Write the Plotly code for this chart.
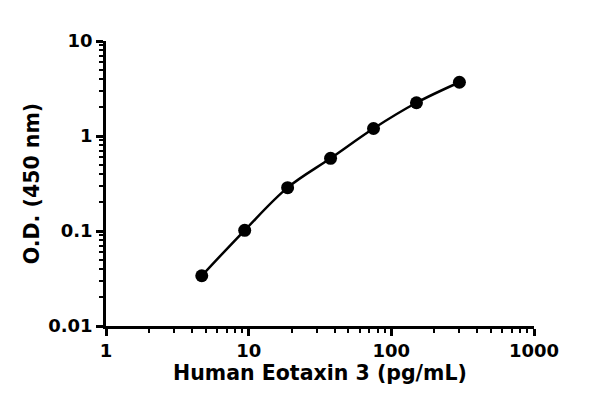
import plotly.graph_objects as go

concentration = [4.69, 9.38, 18.75, 37.5, 75, 150, 300]
od_450 = [0.0338, 0.1017, 0.286, 0.582, 1.2, 2.24, 3.68]

x_tickvals = [1, 10, 100, 1000]
x_ticktext = ["1", "10", "100", "1000"]
y_tickvals = [0.01, 0.1, 1, 10]
y_ticktext = ["0.01", "0.1", "1", "10"]

FONT = "DejaVu Sans"

fig = go.Figure()
fig.add_trace(go.Scatter(
    x=concentration, y=od_450, mode="lines+markers",
    line=dict(color="black", width=2.5, shape="spline", smoothing=1.0),
    marker=dict(color="black", size=13),
    showlegend=False, hoverinfo="skip",
))

axis_common = dict(
    showgrid=False, zeroline=False, showline=True, linecolor="black", linewidth=2.5,
    ticks="outside", ticklen=7, tickwidth=2.5, tickcolor="black",
    tickfont=dict(family=FONT, size=18, color="black", weight="bold"),
    minor=dict(ticks="outside", ticklen=4, tickwidth=2, tickcolor="black", dtick="D1", showgrid=False),
)

fig.update_xaxes(type="log", range=[0, 3], tickvals=x_tickvals, ticktext=x_ticktext,
                 title=dict(text="Human Eotaxin 3 (pg/mL)", standoff=5,
                            font=dict(family=FONT, size=20.5, color="black", weight="bold")),
                 **axis_common)
fig.update_yaxes(type="log", range=[-2, 1], tickvals=y_tickvals, ticktext=y_ticktext,
                 title=dict(text="O.D. (450 nm)", standoff=4,
                            font=dict(family=FONT, size=20.5, color="black", weight="bold")),
                 **axis_common)

fig.update_layout(
    width=592, height=406,
    margin=dict(l=98, r=66, t=33, b=88),
    plot_bgcolor="white", paper_bgcolor="white",
)

fig.write_html("out.html")
